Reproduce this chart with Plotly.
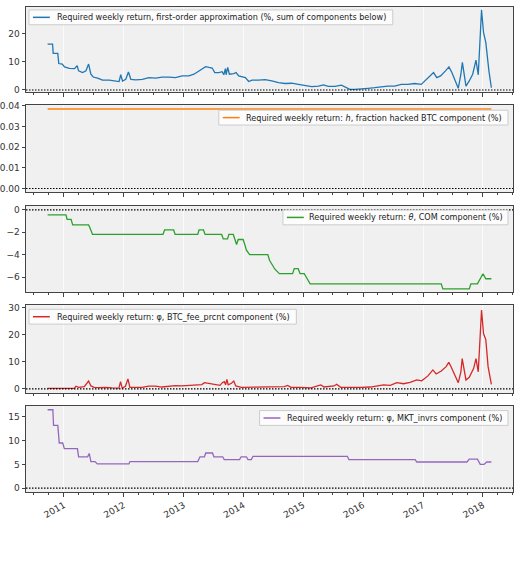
import plotly.graph_objects as go
from plotly.subplots import make_subplots

# ---------------- data ----------------
total_dates = ["2010-09-24","2010-10-24","2010-10-28","2010-11-25","2010-12-01","2010-12-22","2011-01-05",
    "2011-02-04","2011-03-07","2011-03-23","2011-04-01","2011-04-25","2011-05-16","2011-06-01","2011-06-15",
    "2011-06-29","2011-07-26","2011-08-25","2011-10-05","2011-11-14","2011-12-04","2011-12-14","2011-12-25",
    "2012-01-14","2012-01-30","2012-02-14","2012-03-15","2012-04-24","2012-06-03","2012-07-14","2012-08-23",
    "2012-10-03","2012-11-12","2012-12-23","2013-02-02","2013-03-05","2013-04-04","2013-04-24","2013-05-15",
    "2013-06-04","2013-06-24","2013-07-10","2013-08-04","2013-08-24","2013-09-03","2013-09-13","2013-09-17",
    "2013-09-27","2013-10-07","2013-11-03","2013-11-17","2013-12-03","2013-12-23","2014-01-13","2014-02-02",
    "2014-02-22","2014-04-03","2014-05-14","2014-06-23","2014-08-03","2014-09-12","2014-10-23","2014-12-02",
    "2015-01-12","2015-02-22","2015-04-04","2015-05-04","2015-06-03","2015-07-13","2015-08-22","2015-09-22",
    "2015-10-12","2015-11-11","2015-12-22","2016-02-01","2016-03-12","2016-04-22","2016-06-01","2016-07-12",
    "2016-08-21","2016-10-01","2016-11-10","2016-12-21","2017-01-11","2017-02-07","2017-03-06","2017-03-26",
    "2017-04-18","2017-05-18","2017-06-08","2017-06-26","2017-07-18","2017-08-04","2017-08-20","2017-08-29",
    "2017-09-20","2017-10-10","2017-10-31","2017-11-20","2017-12-04","2017-12-24","2018-01-05","2018-01-19",
    "2018-02-07","2018-02-22"]
total_vals = [16.3,16.3,13.0,13.0,9.4,9.2,8.2,
    7.7,7.6,8.6,6.8,6.2,6.8,9.2,5.6,
    4.6,4.2,3.5,3.5,3.2,3.0,5.4,3.2,
    3.8,6.4,3.8,3.6,3.8,4.4,4.2,4.6,
    4.6,4.4,5.0,5.0,5.6,6.8,7.6,8.3,
    8.0,7.8,6.2,6.2,6.5,5.4,7.6,5.4,
    8.0,5.6,5.8,6.2,5.0,4.6,4.4,3.0,
    3.5,3.5,3.7,3.2,2.6,2.3,2.4,2.0,
    1.7,1.2,1.4,1.8,1.3,1.3,1.7,0.8,
    0.2,0.2,0.5,0.6,0.8,1.2,1.4,1.4,
    2.0,2.0,2.3,2.0,3.2,5.0,6.2,4.4,
    5.0,6.8,8.2,6.2,2.6,0.6,5.6,9.8,
    1.4,3.2,5.6,10.6,5.4,28.5,20.5,16.9,
    6.8,0.8]

h_dates = ["2010-09-24", "2018-02-22"]
h_vals = [0.0385, 0.0385]

theta_dates = ["2010-09-24","2011-01-14","2011-01-21","2011-02-14","2011-02-24","2011-06-01","2011-06-09",
    "2011-06-25","2012-08-28","2012-09-07","2012-11-01","2012-11-10","2013-03-28","2013-04-05","2013-05-02",
    "2013-05-12","2013-08-21","2013-08-31","2013-09-26","2013-10-04","2013-10-31","2013-11-10","2013-11-20",
    "2013-11-30","2013-12-30","2014-01-09","2014-01-19","2014-02-08","2014-05-30","2014-06-09","2014-06-29",
    "2014-07-12","2014-08-08","2014-10-28","2014-11-07","2014-12-01","2014-12-13","2015-01-07","2015-01-17",
    "2015-02-12","2017-04-22","2017-05-02","2017-10-10","2017-10-20","2017-11-29","2017-12-14","2018-01-02",
    "2018-01-19","2018-02-22"]
theta_vals = [-0.45,-0.45,-0.85,-0.85,-1.35,-1.35,-1.6,
    -2.2,-2.2,-1.8,-1.8,-2.2,-2.2,-1.8,-1.8,
    -2.2,-2.2,-2.6,-2.6,-2.2,-2.2,-2.65,-3.1,
    -2.65,-2.65,-3.1,-3.6,-4.0,-4.0,-4.5,-5.0,
    -5.3,-5.7,-5.7,-5.25,-5.25,-5.7,-5.7,-5.95,
    -6.6,-6.6,-7.05,-7.05,-6.6,-6.6,-6.15,-5.7,
    -6.15,-6.15]

fee_dates = ["2010-09-24","2011-03-06","2011-03-16","2011-04-01","2011-05-06","2011-06-01","2011-06-15",
    "2011-07-05","2011-08-04","2011-09-13","2011-10-24","2011-12-03","2011-12-13","2011-12-23","2012-01-12",
    "2012-01-27","2012-02-08","2012-03-13","2012-04-23","2012-06-02","2012-07-13","2012-08-22","2012-10-02",
    "2012-11-11","2012-12-21","2013-02-01","2013-03-13","2013-04-22","2013-05-08","2013-06-01","2013-06-21",
    "2013-07-11","2013-08-11","2013-08-25","2013-09-06","2013-09-14","2013-09-22","2013-09-30","2013-10-20",
    "2013-11-03","2013-11-15","2013-12-19","2014-01-29","2014-04-20","2014-09-08","2014-09-28","2014-10-18",
    "2014-12-18","2015-02-17","2015-04-18","2015-05-08","2015-07-08","2015-07-24","2015-08-17","2015-10-17",
    "2015-12-16","2016-02-15","2016-04-15","2016-05-05","2016-06-15","2016-07-25","2016-09-04","2016-10-14",
    "2016-11-24","2016-12-24","2017-01-31","2017-03-02","2017-03-22","2017-04-22","2017-05-22","2017-06-07",
    "2017-06-21","2017-07-11","2017-08-04","2017-08-20","2017-08-28","2017-09-20","2017-10-10","2017-11-06",
    "2017-11-20","2017-12-04","2017-12-24","2018-01-05","2018-01-19","2018-02-02","2018-02-14","2018-02-22"]
fee_vals = [0.2,0.2,1.0,0.6,0.8,2.9,1.1,
    0.6,0.5,0.6,0.4,0.3,2.7,0.3,1.0,
    3.7,0.6,0.5,0.6,1.0,1.0,0.7,1.0,
    1.2,1.1,1.2,1.5,1.6,2.3,2.1,1.8,
    1.5,1.3,2.3,2.7,1.5,3.5,1.5,2.1,
    2.9,1.1,0.6,0.6,0.85,0.85,1.3,0.6,
    0.6,0.4,1.5,0.7,1.1,1.7,0.6,0.5,
    0.6,0.7,1.1,1.5,1.3,2.3,1.9,2.4,
    3.3,3.0,4.8,7.0,5.5,6.6,8.2,9.8,
    8.2,5.7,2.3,6.3,11.2,3.3,4.3,7.6,
    11.2,6.3,29.1,20.4,18.2,8.2,3.3,1.7]

mkt_dates = ["2010-09-24","2010-10-26","2010-10-30","2010-11-25","2010-12-04","2010-12-25","2011-01-04",
    "2011-03-25","2011-04-01","2011-05-26","2011-06-05","2011-06-15","2011-07-10","2011-07-24","2012-02-02",
    "2012-02-08","2013-03-28","2013-04-11","2013-05-08","2013-05-16","2013-06-26","2013-07-05","2013-08-27",
    "2013-09-06","2013-12-08","2013-12-18","2014-01-19","2014-01-29","2014-02-18","2014-02-28","2015-09-27",
    "2015-10-07","2016-11-14","2016-11-24","2017-09-26","2017-10-10","2017-11-29","2017-12-16","2018-01-08",
    "2018-01-25","2018-02-22"]
mkt_vals = [16.5,16.5,13.2,13.2,9.5,9.5,8.3,
    8.3,6.6,6.6,7.3,5.6,5.6,5.1,5.1,
    5.6,5.6,6.6,6.6,7.4,7.4,6.6,6.6,
    6.0,6.0,6.6,6.6,6.0,6.0,6.7,6.7,
    6.0,6.0,5.5,5.5,6.1,6.1,5.0,5.0,
    5.5,5.5]

names = [
    "Required weekly return, first-order approximation (%, sum of components below)",
    "Required weekly return: <i>h</i>, fraction hacked BTC component (%)",
    "Required weekly return: <i>θ</i>, COM component (%)",
    "Required weekly return: φ, BTC_fee_prcnt component (%)",
    "Required weekly return: φ, MKT_invrs component (%)",
]
colors = ["#1f77b4", "#ff7f0e", "#2ca02c", "#d62728", "#9467bd"]
series = [(total_dates, total_vals), (h_dates, h_vals), (theta_dates, theta_vals),
          (fee_dates, fee_vals), (mkt_dates, mkt_vals)]

# ---------------- figure ----------------
W, H = 519, 585
L, R = 23, 6
pw = W - L - R
fig = make_subplots(rows=5, cols=1, shared_xaxes=True)

def px(x):
    return (x - L) / pw

def py(y):
    return 1 - y / H

# panel pixel extents (top, bottom)
panels = [(2.7, 89.3), (102.3, 190.7), (204.3, 291.7), (305, 393.7), (406.7, 494)]
yranges = [[-0.8, 29.6], [-0.0019, 0.0404], [-7.35, 0.35], [-1.5, 30.8], [-0.83, 17.33]]
ytickvals = [[0, 10, 20], [0, 0.01, 0.02, 0.03, 0.04], [-6, -4, -2, 0], [0, 10, 20, 30], [0, 5, 10, 15]]
yfmt = ["d", ".2f", "d", "d", "d"]
# legend boxes in pixels: (left, right, center y, text start x)
legend_box = [(26, 392, 13.5, 53), (217, 508, 115, 243), (281.5, 508, 216, 307),
              (26, 295, 316.5, 53), (258, 508, 419, 285)]

for i, ((d, v), name, c) in enumerate(zip(series, names, colors)):
    fig.add_trace(go.Scatter(x=d, y=v, mode="lines", name=name, line=dict(color=c, width=1.3),
                             showlegend=False), row=i + 1, col=1)
    fig.add_hline(y=0, line=dict(color="black", width=1.2, dash="1.5px,1.5px"), row=i + 1, col=1)
    top, bot = panels[i]
    yname = "yaxis" if i == 0 else f"yaxis{i+1}"
    xname = "xaxis" if i == 0 else f"xaxis{i+1}"
    fig.layout[yname].update(domain=[py(bot), py(top)], range=yranges[i],
                             tickvals=ytickvals[i], tickformat=yfmt[i])
    fig.layout[xname].update(domain=[0, 1])
    # legend drawn by hand (matplotlib style)
    bl, br, cy, tx = legend_box[i]
    fig.add_shape(type="rect", xref="paper", yref="paper", x0=px(bl), x1=px(br),
                  y0=py(cy + 7.5), y1=py(cy - 7.5), fillcolor="rgba(255,255,255,0.8)",
                  line=dict(color="#cccccc", width=1), layer="above")
    fig.add_shape(type="line", xref="paper", yref="paper", x0=px(bl + 4), x1=px(bl + 21),
                  y0=py(cy), y1=py(cy), line=dict(color=c, width=1.5), layer="above")
    fig.add_annotation(xref="paper", yref="paper", x=px(tx), y=py(cy), text=name, showarrow=False,
                       xanchor="left", yanchor="middle", xshift=-1,
                       font=dict(family="DejaVu Sans", size=8.1, color="#222"))

fig.update_xaxes(type="date", range=["2010-05-15", "2018-07-04"], dtick="M12", tick0="2011-01-01",
                 tickformat="%Y", tickangle=-30, ticks="outside", ticklen=3.5, tickwidth=1,
                 tickcolor="#444", showline=True, linecolor="#444", linewidth=1, mirror=True,
                 showgrid=True, gridcolor="rgba(255,255,255,0.7)", gridwidth=1, zeroline=False,
                 minor=dict(dtick="M3", ticks="outside", ticklen=2, tickcolor="#444", showgrid=False),
                 tickfont=dict(family="DejaVu Sans", size=9, color="#333"))
fig.update_yaxes(ticks="outside", ticklen=3.5, tickwidth=1, tickcolor="#444", showline=True,
                 linecolor="#444", linewidth=1, mirror=True, showgrid=False, zeroline=False,
                 tickfont=dict(family="DejaVu Sans", size=9, color="#333"))

fig.update_layout(width=W, height=H, margin=dict(l=L, r=R, t=0, b=0), showlegend=False,
                  paper_bgcolor="white", plot_bgcolor="#f0f0f0",
                  font=dict(family="DejaVu Sans", size=9, color="#333"))

fig.write_html("out.html")
